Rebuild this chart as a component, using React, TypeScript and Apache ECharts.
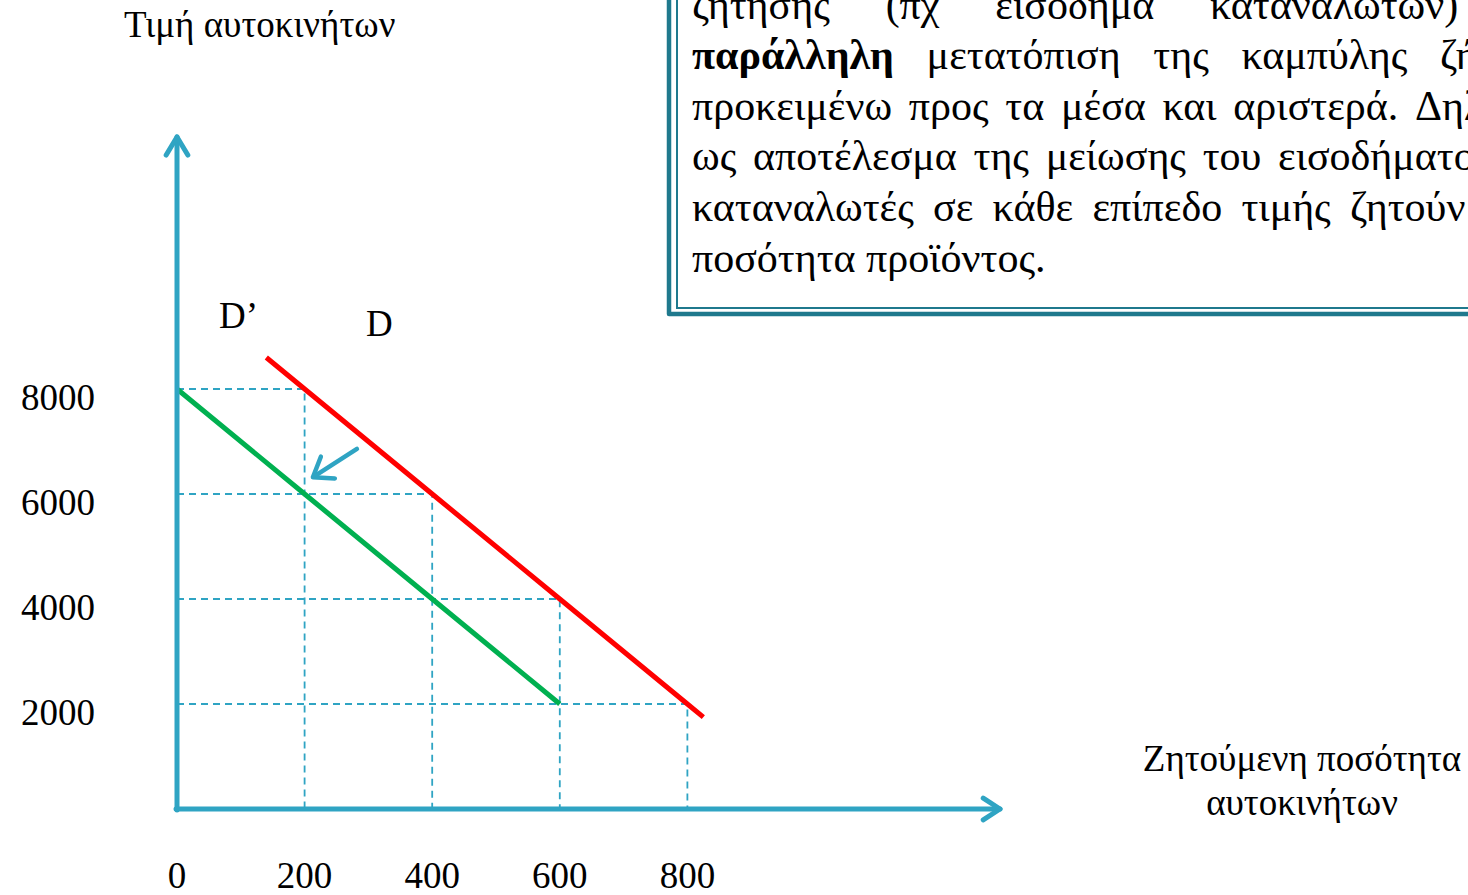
import React, { useEffect, useRef } from "react";
import * as echarts from "echarts";

// ---- data ----
const X_TICKS = [0, 200, 400, 600, 800];
const Y_TICKS = [2000, 4000, 6000, 8000];
const D_Q = [140, 400, 600, 800, 825];
const D_P = [8600, 6000, 4000, 2000, 1750];
const D2_Q = [0, 200, 400, 600];
const D2_P = [8000, 6000, 4000, 2000];
const GUIDE_Q = [200, 400, 600, 800];
const GUIDE_P = [8000, 6000, 4000, 2000];
const SHIFT_ARROW = [
  [282, 6860],
  [213, 6320],
];
const X_MAX = 1290;
const Y_MAX = 12800;

const Y_TITLE = "Τιμή αυτοκινήτων";
const X_TITLE_1 = "Ζητούμενη ποσότητα";
const X_TITLE_2 = "αυτοκινήτων";

// justified text box lines (first word at left edge, last word start given -> uniform gaps)
const BOX_LINES: { y: number; words: string[]; boldFirst?: boolean; lastX: number | null }[] = [
  { y: 5, words: ["ζήτησης", "(πχ", "εισόδημα", "καταναλωτών)"], lastX: 1210 },
  { y: 55, words: ["παράλληλη", "μετατόπιση", "της", "καμπύλης", "ζήτησης"], boldFirst: true, lastX: 1440 },
  { y: 106, words: ["προκειμένω", "προς", "τα", "μέσα", "και", "αριστερά.", "Δηλαδή"], lastX: 1415 },
  { y: 156, words: ["ως", "αποτέλεσμα", "της", "μείωσης", "του", "εισοδήματος"], lastX: 1278 },
  { y: 207, words: ["καταναλωτές", "σε", "κάθε", "επίπεδο", "τιμής", "ζητούν"], lastX: 1350 },
  { y: 258, words: ["ποσότητα", "προϊόντος."], lastX: null },
];

const FONT = "'Liberation Serif', 'Times New Roman', serif";
const AXIS_COLOR = "#2fa4c3";
const BOX_COLOR = "#1f798d";
const FS = 37;
const BOX_FS = 42;

function chevron(tip: number[], dir: number[], L: number, angDeg: number) {
  const a = (angDeg * Math.PI) / 180;
  const rot = (t: number) => [
    dir[0] * Math.cos(t) - dir[1] * Math.sin(t),
    dir[0] * Math.sin(t) + dir[1] * Math.cos(t),
  ];
  const r1 = rot(a);
  const r2 = rot(-a);
  return [
    [tip[0] - L * r1[0], tip[1] - L * r1[1]],
    [tip[0], tip[1]],
    [tip[0] - L * r2[0], tip[1] - L * r2[1]],
  ];
}

export default function App() {
  const ref = useRef<HTMLDivElement>(null);

  useEffect(() => {
    if (!ref.current) return;
    const chart = echarts.init(ref.current, null, { renderer: "svg" });

    const ctx = document.createElement("canvas").getContext("2d") as CanvasRenderingContext2D;
    const measure = (t: string, bold: boolean) => {
      ctx.font = `${bold ? "bold " : ""}${BOX_FS}px ${FONT}`;
      return ctx.measureText(t).width;
    };

    const guideSeries = GUIDE_Q.map((q, i) => ({
      type: "line",
      silent: true,
      symbol: "none",
      z: 1,
      lineStyle: { color: AXIS_COLOR, width: 1.8, type: [7, 5] },
      data: [
        [0, GUIDE_P[i]],
        [q, GUIDE_P[i]],
        [q, 0],
      ],
    }));

    const graphics: any[] = [];
    const LEFT = 692;
    BOX_LINES.forEach((ln) => {
      const widths = ln.words.map((w, i) => measure(w, !!ln.boldFirst && i === 0));
      let gap = measure(" ", false);
      if (ln.lastX !== null && ln.words.length > 1) {
        const sumBefore = widths.slice(0, -1).reduce((a, b) => a + b, 0);
        gap = (ln.lastX - LEFT - sumBefore) / (ln.words.length - 1);
      }
      let x = LEFT;
      ln.words.forEach((w, i) => {
        const bold = !!ln.boldFirst && i === 0;
        graphics.push({
          type: "text",
          x,
          y: ln.y,
          style: {
            text: w,
            fill: "#000",
            font: `${bold ? "bold " : ""}${BOX_FS}px ${FONT}`,
            textAlign: "left",
            textVerticalAlign: "middle",
          },
        });
        x += widths[i] + gap;
      });
    });
    const label = (text: string, x: number, y: number, align: string) => ({
      type: "text",
      x,
      y,
      style: { text, font: `${FS}px ${FONT}`, fill: "#000", textAlign: align, textVerticalAlign: "middle" },
    });
    graphics.push(
      {
        type: "polyline",
        shape: { points: [[669, -20], [669, 314], [1490, 314]] },
        style: { stroke: BOX_COLOR, lineWidth: 4.5, fill: null, lineJoin: "round" },
      },
      {
        type: "polyline",
        shape: { points: [[677, -20], [677, 308], [1490, 308]] },
        style: { stroke: BOX_COLOR, lineWidth: 2, fill: null },
      },
      label(Y_TITLE, 124, 24, "left"),
      label(X_TITLE_1, 1302, 758, "center"),
      label(X_TITLE_2, 1302, 802, "center"),
      label("D’", 219, 315, "left"),
      label("D", 366, 323, "left")
    );

    const option: any = {
      animation: false,
      backgroundColor: "#fff",
      grid: { left: 177, top: 137, width: 823, height: 672 },
      xAxis: {
        type: "value",
        min: 0,
        max: X_MAX,
        interval: 200,
        axisLine: { show: false },
        axisTick: { show: false },
        splitLine: { show: false },
        axisLabel: {
          show: true,
          showMaxLabel: false,
          margin: 48,
          color: "#000",
          fontSize: FS,
          fontFamily: FONT,
          formatter: (v: number) => (X_TICKS.includes(v) ? String(v) : ""),
        },
      },
      yAxis: {
        type: "value",
        min: 0,
        max: Y_MAX,
        interval: 2000,
        axisLine: { show: false },
        axisTick: { show: false },
        splitLine: { show: false },
        axisLabel: {
          show: true,
          showMaxLabel: false,
          margin: 82,
          verticalAlign: "top",
          lineHeight: 16,
          color: "#000",
          fontSize: FS,
          fontFamily: FONT,
          formatter: (v: number) => (Y_TICKS.includes(v) ? String(v) : ""),
        },
      },
      graphic: graphics,
      series: [
        ...guideSeries,
        {
          type: "line",
          name: "D",
          symbol: "none",
          z: 3,
          lineStyle: { color: "#ff0000", width: 5 },
          data: D_Q.map((q, i) => [q, D_P[i]]),
        },
        {
          type: "line",
          name: "D’",
          symbol: "none",
          z: 3,
          lineStyle: { color: "#00b050", width: 5 },
          data: D2_Q.map((q, i) => [q, D2_P[i]]),
        },
        {
          type: "custom",
          name: "axes",
          silent: true,
          z: 4,
          data: [[0, 0]],
          renderItem: (params: any, api: any) => {
            const o = api.coord([0, 0]);
            const yt = api.coord([0, Y_MAX]);
            const xe = api.coord([X_MAX, 0]);
            const st = { stroke: AXIS_COLOR, lineWidth: 5, fill: null, lineCap: "round", lineJoin: "round" };
            return {
              type: "group",
              children: [
                { type: "line", shape: { x1: o[0], y1: o[1] + 1, x2: yt[0], y2: yt[1] }, style: st },
                { type: "line", shape: { x1: o[0] - 1, y1: o[1], x2: xe[0], y2: xe[1] }, style: st },
                { type: "polyline", shape: { points: chevron(yt, [0, -1], 21, 31) }, style: st },
                { type: "polyline", shape: { points: chevron(xe, [1, 0], 20, 33) }, style: st },
              ],
            };
          },
        },
        {
          type: "custom",
          name: "shift",
          silent: true,
          z: 4,
          data: [SHIFT_ARROW[0].concat(SHIFT_ARROW[1])],
          renderItem: (params: any, api: any) => {
            const a = api.coord([api.value(0), api.value(1)]);
            const b = api.coord([api.value(2), api.value(3)]);
            const dx = b[0] - a[0];
            const dy = b[1] - a[1];
            const len = Math.sqrt(dx * dx + dy * dy);
            const dir = [dx / len, dy / len];
            const st = { stroke: AXIS_COLOR, lineWidth: 4.5, fill: null, lineCap: "round", lineJoin: "round" };
            return {
              type: "group",
              children: [
                { type: "line", shape: { x1: a[0], y1: a[1], x2: b[0] - dir[0] * 2, y2: b[1] - dir[1] * 2 }, style: st },
                { type: "polyline", shape: { points: chevron(b, dir, 22, 36) }, style: st },
              ],
            };
          },
        },
      ],
    };

    chart.setOption(option);
    return () => chart.dispose();
  }, []);

  return (
    <div
      ref={ref}
      style={{ position: "fixed", left: 0, top: 0, width: 1468, height: 895, background: "#fff" }}
    />
  );
}
